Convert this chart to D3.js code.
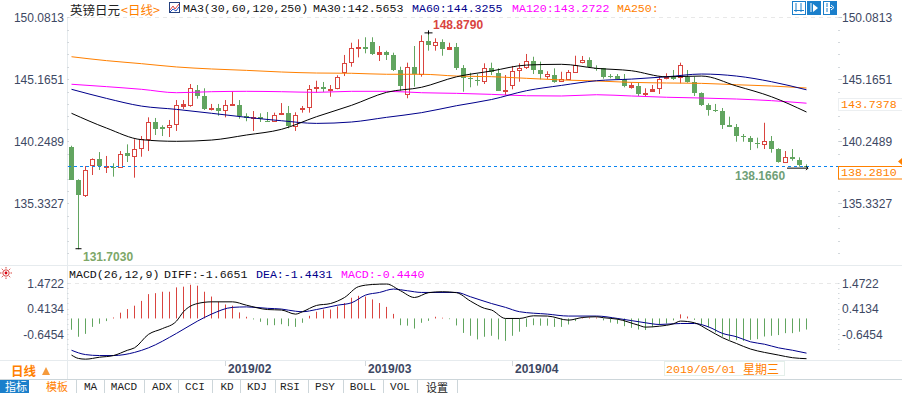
<!DOCTYPE html>
<html><head><meta charset="utf-8">
<style>html,body{margin:0;padding:0;background:#fff;overflow:hidden}svg{display:block}</style>
<script src="https://cdn.jsdelivr.net/npm/d3@7"></script></head><body><div id="c"></div>
<script>
const opens=[139.80,137.16,135.94,138.32,138.83,138.19,138.24,138.19,139.30,139.03,139.70,140.46,141.78,141.41,141.33,141.57,143.07,143.13,144.31,143.84,142.81,142.91,142.67,143.07,143.13,142.26,142.12,142.15,141.88,141.80,142.36,142.47,141.41,142.81,142.91,144.45,144.53,144.37,144.42,145.69,146.51,147.64,147.72,148.12,147.22,147.35,147.09,145.90,143.97,146.14,145.56,148.17,147.86,148.12,147.56,147.72,146.03,145.27,145.11,145.03,146.03,145.69,144.26,144.73,145.84,146.08,146.59,145.90,145.42,145.50,144.97,145.21,145.76,146.48,146.69,146.08,146.03,145.40,145.42,145.16,144.58,144.61,143.97,144.26,144.45,145.24,145.37,145.32,145.37,144.95,144.08,143.13,142.73,142.65,141.54,141.36,140.67,140.51,140.12,139.98,140.25,139.64,138.64,138.98,138.75,138.32];
const highs=[139.90,137.24,138.29,138.90,139.40,139.09,138.51,139.48,140.01,140.41,140.67,142.15,142.10,141.52,141.94,143.52,143.52,144.79,144.71,144.45,143.21,143.21,143.52,144.21,143.52,142.47,142.65,142.47,142.57,142.52,143.28,143.05,142.55,143.05,144.71,145.05,144.95,144.71,145.48,147.09,148.06,148.33,148.49,148.49,147.80,147.43,147.27,146.16,146.48,147.80,148.65,148.879,148.41,148.33,148.06,148.04,146.29,145.68,145.58,146.43,146.48,146.03,145.50,146.22,146.43,147.17,146.95,146.56,145.80,146.03,145.76,145.90,147.03,147.01,146.90,146.27,146.06,145.58,145.58,145.58,144.93,144.89,144.45,144.71,145.42,145.64,145.90,146.48,145.90,145.37,144.13,143.26,143.21,142.89,142.20,141.62,140.83,140.67,140.54,141.72,140.67,139.70,139.48,139.64,138.98,138.43];
const lows=[137.19,131.703,135.84,137.58,137.98,137.74,137.45,138.14,138.61,137.37,139.03,139.48,140.75,140.67,140.59,141.07,142.81,142.99,143.63,142.73,142.69,142.28,142.15,143.05,142.04,141.84,141.07,141.78,141.78,141.78,142.33,141.28,141.07,142.52,142.52,144.10,144.16,143.78,144.37,145.42,146.16,146.90,147.22,147.09,146.61,146.69,145.82,144.26,143.66,144.58,145.37,147.43,147.43,147.03,147.48,145.90,144.18,144.53,144.66,144.79,145.50,144.24,143.92,144.37,144.97,145.98,145.58,145.16,145.19,144.89,144.95,145.16,145.72,146.43,146.08,145.84,145.21,145.24,145.16,144.53,144.42,143.84,143.78,144.18,144.00,145.16,145.11,144.84,144.89,143.84,143.05,142.28,142.57,141.23,141.38,140.22,140.22,139.56,139.70,139.64,139.35,138.56,138.56,138.71,138.24,138.166];
const closes=[137.21,135.94,137.95,138.83,138.24,138.27,138.18,139.22,139.03,139.62,140.41,141.78,141.23,141.25,141.52,143.10,143.21,144.45,143.84,142.81,142.89,142.65,143.10,143.18,142.26,142.10,142.18,141.96,141.80,142.31,142.47,141.41,142.31,142.91,144.37,144.53,144.34,144.42,145.32,146.43,147.62,147.72,147.56,147.17,147.35,147.11,145.90,144.63,146.11,145.58,148.17,147.82,148.09,147.56,147.70,146.03,145.21,145.19,145.03,146.03,145.69,144.26,144.31,145.80,146.03,146.59,145.90,145.58,145.58,144.97,145.16,145.74,146.32,146.67,146.16,146.00,145.32,145.29,145.21,144.63,144.71,144.00,144.05,144.39,145.16,145.34,145.19,146.27,144.95,144.08,143.13,142.73,142.68,141.54,141.41,140.67,140.57,140.22,140.01,140.25,139.64,138.64,139.03,138.79,138.32,138.281];
const maIndex=[0,5,10,15,20,25,30,35,40,45,50,55,60,65,70,75,80,85,90,95,100,105];
const ma30=[142.47,141.30,140.38,140.25,140.35,140.75,141.20,142.20,143.10,144.13,144.53,145.36,145.82,146.29,146.35,146.03,145.84,145.36,145.42,144.63,143.78,142.57];
const ma60=[144.37,143.65,143.04,142.78,142.47,142.15,141.88,141.67,141.78,142.15,142.52,143.07,143.56,144.26,144.68,145.05,145.18,145.36,145.58,145.42,144.97,144.33];
const ma120=[144.77,144.58,144.37,144.10,144.18,144.21,144.18,144.13,144.21,144.21,144.10,144.05,143.97,143.86,143.84,143.94,143.84,143.74,143.68,143.60,143.47,143.27];
const ma250=[146.95,146.64,146.40,146.14,145.98,145.87,145.74,145.66,145.64,145.56,145.56,145.42,145.37,145.24,145.11,145.03,144.92,144.87,144.84,144.73,144.63,144.47];
const macdBars=[-0.47,-0.76,-0.64,-0.35,-0.22,-0.11,0.04,0.24,0.39,0.53,0.73,1.01,1.05,1.11,1.11,1.29,1.32,1.40,1.36,1.11,0.91,0.69,0.58,0.53,0.25,0.07,-0.04,-0.14,-0.28,-0.28,-0.24,-0.32,-0.35,-0.18,0.11,0.28,0.37,0.37,0.50,0.64,0.86,0.94,0.91,0.79,0.64,0.48,0.19,-0.28,-0.30,-0.42,-0.18,-0.10,0.07,0.03,-0.03,-0.29,-0.60,-0.72,-0.87,-0.76,-0.72,-0.87,-0.93,-0.72,-0.55,-0.35,-0.28,-0.30,-0.30,-0.35,-0.35,-0.25,-0.11,0.05,0.04,0.04,-0.08,-0.17,-0.22,-0.32,-0.39,-0.46,-0.48,-0.36,-0.28,-0.21,-0.08,0.17,0.08,-0.06,-0.28,-0.37,-0.58,-0.76,-0.89,-0.90,-0.93,-0.89,-0.86,-0.75,-0.72,-0.69,-0.61,-0.61,-0.55,-0.46];
const diffIndex=[0,1,2,4,6,8,9,11,13,15,16,18,20,23,25,28,30,32,33,35,37,39,41,43,45,47,49,51,53,55,57,59,60,62,64,66,68,71,73,75,76,78,81,82,84,86,87,89,91,93,95,97,99,101,103,105];
const diffLine=[-1.52,-1.66,-1.69,-1.61,-1.54,-1.32,-1.22,-0.66,-0.42,-0.11,0.28,0.62,0.69,0.69,0.55,0.37,0.35,0.18,0.28,0.54,0.62,0.87,1.32,1.41,1.43,1.15,0.87,1.07,1.11,1.07,0.72,0.42,0.35,0,0,0.11,0.10,-0.07,0.04,0.07,0.03,-0.03,-0.28,-0.36,-0.32,-0.22,-0.11,-0.18,-0.48,-0.80,-1.04,-1.27,-1.41,-1.52,-1.63,-1.67];
const deaIndex=[0,2,4,6,9,11,15,18,20,23,25,28,30,32,33,35,38,40,42,44,46,48,50,55,57,60,62,64,68,71,75,78,82,84,87,89,91,93,95,97,99,101,103,105];
const deaLine=[-1.32,-1.50,-1.54,-1.54,-1.41,-1.22,-0.62,-0.11,0.18,0.46,0.48,0.42,0.39,0.30,0.28,0.37,0.55,0.65,0.97,1.08,1.22,1.15,1.08,1.08,0.90,0.62,0.46,0.28,0.18,0.10,0.10,0,-0.18,-0.25,-0.21,-0.21,-0.35,-0.62,-0.76,-0.97,-1.07,-1.22,-1.32,-1.44];
const priceTicks=[150.0813,145.1651,140.2489,135.3327];
const macdTicks=[1.4722,0.4134,-0.6454];
const monthLabels=["2019/02","2019/03","2019/04"];
const monthIndex=[22,42,63];
const tabs=["MA","MACD","ADX","CCI","KD","KDJ","RSI","PSY","BOLL","VOL","设置"];
const tabCenters=[90.5,124,162,195,227,257,290,325,363,400,437];
const tabEdges=[76,104,144,178,212,240,275,308,343,383,417,457];
const lastPrice=138.281, highPrice=148.879, lowPrice=131.703, recentLow=138.166;

const RED="#d9443f",GREEN="#62a560",ORANGE="#ff8000",NAVY="#00008b",MAG="#ff00ff",AX="#3d4863",LIGHT="#e6ebee";
const SANS="'Liberation Sans',Arial,sans-serif",MONO="'Liberation Mono',monospace",CJK="'Noto Sans CJK SC',sans-serif";
const svg=d3.select("#c").append("svg").attr("width",902).attr("height",393).attr("viewBox","0 0 902 393");
const x=d3.scaleLinear().domain([0,105]).range([71.5,806.5]);
const y=d3.scaleLinear().domain([135.3327,150.0813]).range([203.4,17.2]);
const ym=d3.scaleLinear().domain([-0.6454,1.4722]).range([334,283]);
function T(px,py,s,o={}){return svg.append("text").attr("x",px).attr("y",py).attr("dominant-baseline","central")
  .attr("text-anchor",o.a||"start").attr("font-family",o.f||SANS).attr("font-size",o.s||12).attr("font-weight",o.w||"normal").attr("fill",o.c||AX).text(s);}
function L(x1,y1,x2,y2,c,o={}){return svg.append("line").attr("x1",x1).attr("y1",y1).attr("x2",x2).attr("y2",y2).attr("stroke",c).attr("stroke-width",o.w||1).attr("stroke-dasharray",o.d||null);}

// frame
L(0,265.5,902,265.5,LIGHT);L(0,360.5,902,360.5,LIGHT);L(0,379.5,902,379.5,"#cdd6da");
L(67.5,17,67.5,379,LIGHT);
L(67,17.5,838,17.5,"#e8e8e8",{d:"4 4"});L(67,283.5,838,283.5,"#e8e8e8",{d:"4 4"});
// minor tick dots
[67,838].forEach(px=>{
  d3.range(0,20).forEach(k=>{const py=17.2+12.41*k; if(py<=262)L(px,Math.round(py)+.5,px+2,Math.round(py)+.5,"#d3d8dc");});
  d3.range(0,15).forEach(k=>{const py=283+5.1*k; if(py<=354)L(px,Math.round(py)+.5,px+1.5,Math.round(py)+.5,"#d3d8dc");});
});

// axes
function axis(gen,px,scale,vals,fmt){
  const g=svg.append("g").attr("transform",`translate(${px},0)`).call(gen(scale).tickValues(vals).tickSize(0).tickPadding(0).tickFormat(fmt));
  g.select(".domain").remove();
  g.selectAll("text").attr("font-family",SANS).attr("font-size",12).attr("fill",AX).attr("dy",null).attr("dominant-baseline","central");
  return g;
}
const f4=d3.format(".4f");
axis(d3.axisLeft,64,y,priceTicks,f4);axis(d3.axisRight,842,y,priceTicks,f4);
axis(d3.axisLeft,64,ym,macdTicks,d=>f4(d).replace("−","-"));axis(d3.axisRight,842,ym,macdTicks,d=>f4(d).replace("−","-"));
priceTicks.forEach(p=>L(839,Math.round(y(p))+.5,842,Math.round(y(p))+.5,"#c6ccd2"));

// candles
const idx=d3.range(opens.length);
svg.append("g").selectAll("line").data(idx).join("line")
  .attr("x1",i=>x(i)).attr("x2",i=>x(i)).attr("y1",i=>y(highs[i])).attr("y2",i=>y(lows[i]))
  .attr("stroke",i=>closes[i]>=opens[i]?RED:GREEN);
svg.append("g").selectAll("rect").data(idx).join("rect")
  .attr("x",i=>closes[i]>=opens[i]?x(i)-2:x(i)-2.5)
  .attr("width",i=>closes[i]>=opens[i]?4:5)
  .attr("y",i=>closes[i]>=opens[i]?Math.round(y(closes[i]))+.5:Math.round(y(opens[i])))
  .attr("height",i=>Math.max(1,Math.round(Math.abs(y(closes[i])-y(opens[i])))))
  .attr("fill",i=>closes[i]>=opens[i]?(Math.abs(y(closes[i])-y(opens[i]))<2?RED:"#fff"):GREEN)
  .attr("stroke",i=>closes[i]>=opens[i]?RED:"none");

// MA lines
const lineP=d3.line().x((d,k)=>x(maIndex[k])).y(d=>y(d)).curve(d3.curveMonotoneX);
[[ma250,ORANGE],[ma120,MAG],[ma60,NAVY],[ma30,"#000"]].forEach(([a,c])=>
  svg.append("path").datum(a).attr("d",lineP).attr("fill","none").attr("stroke",c).attr("stroke-width",1));

// last price line
L(68,Math.round(y(lastPrice))+.5,838,Math.round(y(lastPrice))+.5,"#0a84f0",{d:"3 3"});

// extreme marks
L(x(51)-4,y(highPrice)+.5,x(51)+4,y(highPrice)+.5,"#000");
L(x(51),y(highPrice)-2,x(51),y(highPrice)+2,"#000");
T(433,25,f4(highPrice),{c:RED,w:"bold"});
L(x(1)-3,y(lowPrice)-.5,x(1)+3,y(lowPrice)-.5,"#000");
T(83,256.5,f4(lowPrice),{c:"#7da768",w:"bold"});
L(787,y(recentLow)+.5,808,y(recentLow)+.5,"#000");
svg.append("path").attr("d",`M806 ${y(recentLow)-1.5}L808 ${y(recentLow)+.5}L806 ${y(recentLow)+2.5}`).attr("fill","none").attr("stroke","#000");
T(735,176,f4(recentLow),{c:"#6f9f78",w:"bold"});

// MACD
svg.append("g").selectAll("line").data(idx).join("line")
  .attr("x1",i=>x(i)).attr("x2",i=>x(i)).attr("y1",ym(0)).attr("y2",i=>ym(macdBars[i]))
  .attr("stroke",i=>macdBars[i]>=0?RED:GREEN);
const mline=ix=>d3.line().x((d,k)=>x(ix[k])).y(d=>ym(d)).curve(d3.curveMonotoneX);
svg.append("path").datum(deaLine).attr("d",mline(deaIndex)).attr("fill","none").attr("stroke",NAVY);
svg.append("path").datum(diffLine).attr("d",mline(diffIndex)).attr("fill","none").attr("stroke","#000");

// headers
T(70,9,"英镑日元",{f:CJK,s:12.5,c:"#222"});
T(121,9,"<日线>",{f:CJK,s:12.5,c:ORANGE});
svg.append("rect").attr("x",169.5).attr("y",2.5).attr("width",10).attr("height",10).attr("fill","#fff").attr("stroke","#24407e");
svg.append("path").attr("d","M170 10L173 6L175 9L179 4").attr("fill","none").attr("stroke","#d9443f");
svg.append("path").attr("d","M170 12L173 9L176 11L179 7").attr("fill","none").attr("stroke","#2a55c0");
const M=(px,py,s,c)=>T(px,py,s,{f:MONO,s:11.6,c});
M(183,8,"MA3(30,60,120,250)","#111");
M(313,8,"MA30:142.5653","#111");M(412,8,"MA60:144.3255",NAVY);M(512,8,"MA120:143.2722",MAG);M(617,8,"MA250:",ORANGE);
M(69,274,"MACD(26,12,9)","#111");M(164,274,"DIFF:-1.6651","#111");M(256,274,"DEA:-1.4431",NAVY);M(341,274,"MACD:-0.4440",MAG);

// toolbar icons
[[792,false],[807,true],[823,false]].forEach(([px,fill],k)=>{
  svg.append("rect").attr("x",px+.5).attr("y",1.5).attr("width",13).attr("height",13).attr("fill",fill?"#1b7fcb":"#fff").attr("stroke","#1b7fcb");
  const c=fill?"#fff":"#1b7fcb";
  L(px+4,3,px+4,12,c);
  if(k==0){L(px+9,3,px+9,12,c);L(px+2,10.5,px+12,10.5,c);}
  if(k==1){svg.append("path").attr("d",`M${px+6} 4L${px+11} 8L${px+6} 12Z`).attr("fill",c);}
  if(k==2){svg.append("rect").attr("x",px+7).attr("y",2).attr("width",6.5).attr("height",12).attr("fill","#1b7fcb");
    svg.append("path").attr("d",`M${px+3} 7.5H${px+9}M${px+8} 5L${px+11} 7.5L${px+8} 10`).attr("fill","none").attr("stroke","#fff");}
});

// value boxes
svg.append("rect").attr("x",838.5).attr("y",98.5).attr("width",64).attr("height",12).attr("fill","#fff").attr("stroke","#eceff1");
M(841,104.5,"143.7378",ORANGE);
svg.append("rect").attr("x",838.5).attr("y",166.5).attr("width",64).attr("height",12.5).attr("fill","#fff").attr("stroke",ORANGE);
M(841,172.8,"138.2810",ORANGE);
svg.append("path").attr("d","M902 158L898 161.5L902 165Z").attr("fill",ORANGE);

// sun icon
svg.append("circle").attr("cx",6).attr("cy",273).attr("r",3.2).attr("fill","#fff").attr("stroke","#d9443f");
svg.append("circle").attr("cx",6).attr("cy",273).attr("r",1.4).attr("fill","#d9000f");
d3.range(8).forEach(k=>{const a=k*Math.PI/4;L(6+Math.cos(a)*4.5,273+Math.sin(a)*4.5,6+Math.cos(a)*6,273+Math.sin(a)*6,"#d9443f");});

// month axis
const gm=svg.append("g").attr("transform","translate(0,360)").call(d3.axisBottom(x).tickValues(monthIndex).tickSize(0).tickPadding(0).tickFormat((d,i)=>monthLabels[i]));
gm.select(".domain").remove();
gm.selectAll("text").attr("font-family",SANS).attr("font-size",12).attr("font-weight","bold").attr("fill",AX).attr("text-anchor","start").attr("dx",2).attr("dy",null).attr("y",9).attr("dominant-baseline","central");
monthIndex.forEach(i=>L(x(i),361,x(i),366,"#d3d8dc"));

// crosshair date
svg.append("rect").attr("x",664.5).attr("y",361.5).attr("width",120).attr("height",14).attr("fill","#fff").attr("stroke","#e4efea");
M(666,369,"2019/05/01",ORANGE);
T(743,368.5,"星期三",{f:CJK,s:12,c:ORANGE});

// period selector
T(11,370,"日线",{f:CJK,s:12.5,w:"bold",c:ORANGE});
svg.append("path").attr("d","M42 375L46 367L50 375Z").attr("fill","#f59a3c");

// tabs
svg.append("rect").attr("x",0).attr("y",380).attr("width",29).attr("height",13).attr("fill","#1b7fcb");
T(5,386,"指标",{f:CJK,s:11,c:"#fff"});
T(46,386,"模板",{f:CJK,s:11,c:ORANGE});
tabEdges.forEach(px=>L(px+.5,380,px+.5,393,"#cdd6da"));
tabs.forEach((s,i)=>T(tabCenters[i],386.5,s,{a:"middle",f:s==="设置"?CJK:MONO,s:s==="设置"?11:11,c:"#222"}));
</script></body></html>
